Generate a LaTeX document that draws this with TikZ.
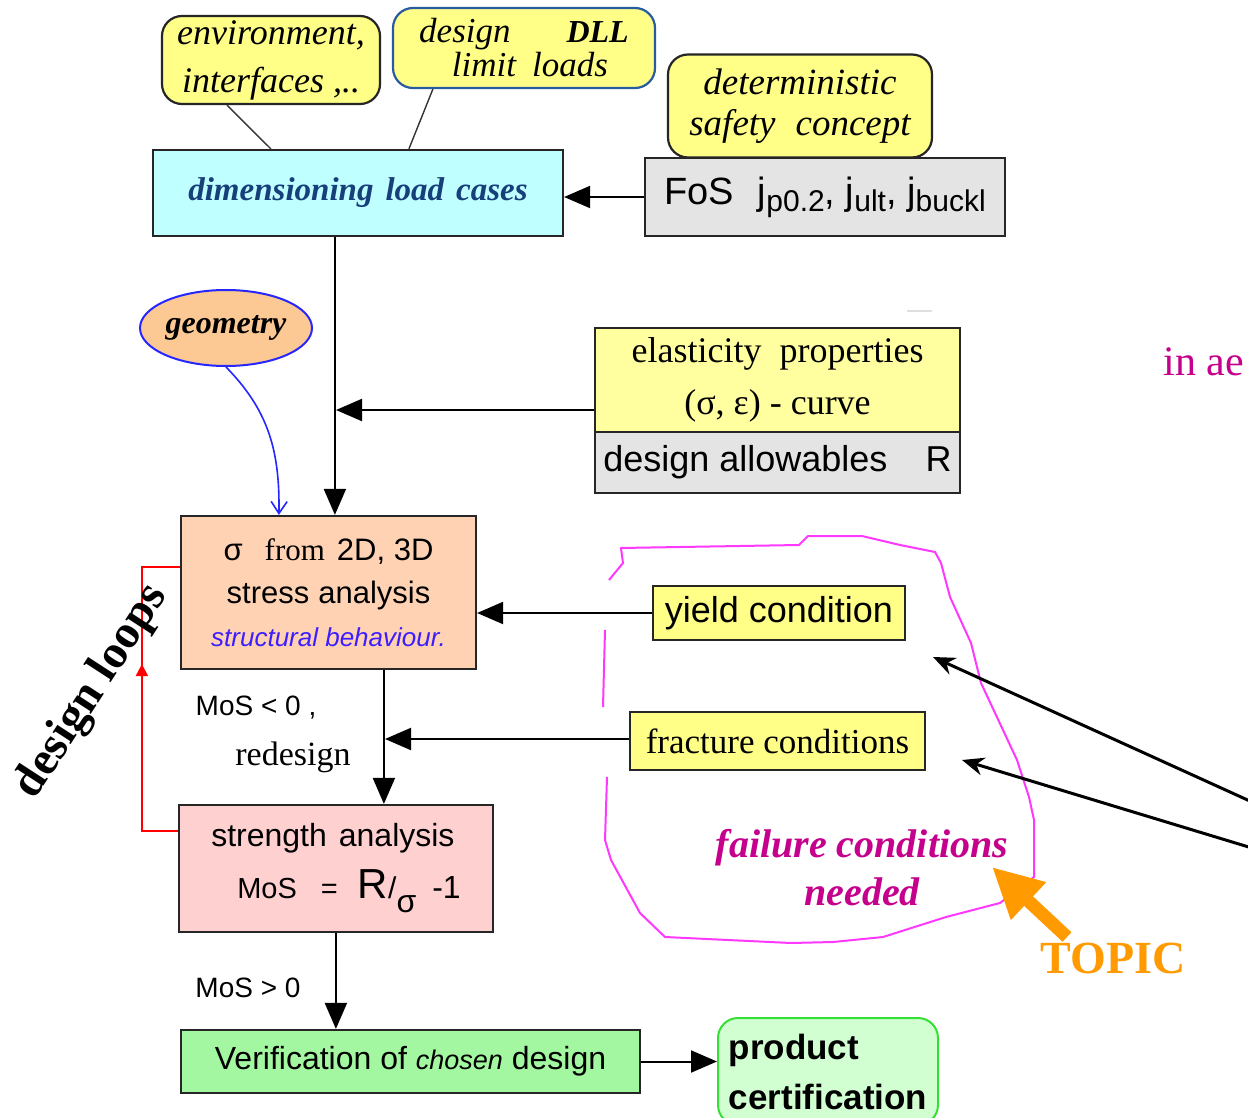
\documentclass[tikz,border=0pt]{standalone}
\usepackage{fontspec}
\setmainfont{Liberation Sans}
\newfontfamily\serifz{Liberation Serif}
\usetikzlibrary{arrows.meta,calc,decorations.markings,shapes.geometric}
\definecolor{ylwA}{HTML}{FFFF88}
\definecolor{ylwB}{HTML}{FFFFA0}
\definecolor{cyanA}{HTML}{BFFFFF}
\definecolor{grayA}{HTML}{E4E4E4}
\definecolor{peach}{HTML}{FFD2B4}
\definecolor{pinkA}{HTML}{FFD0D0}
\definecolor{greenA}{HTML}{A2F7A0}
\definecolor{greenB}{HTML}{D2FFD2}
\definecolor{greenE}{HTML}{33E033}
\definecolor{geoF}{HTML}{FCC894}
\definecolor{blueE}{HTML}{2626FF}
\definecolor{dllE}{HTML}{2A5AA0}
\definecolor{navy}{HTML}{17407A}
\definecolor{violetT}{HTML}{3C1EFF}
\definecolor{magL}{HTML}{FF38FF}
\definecolor{magT}{HTML}{C4008C}
\definecolor{orangeT}{HTML}{FF9A00}
\newcommand\fsz[2]{\fontsize{#1}{#2}\selectfont}
\begin{document}
\begin{tikzpicture}[x=1pt,y=-1pt,
 box/.style={draw=black!85, line width=2.2pt, inner sep=0pt, align=center},
 rbox/.style={box, rounded corners=20pt},
 arr/.style={line width=2pt, -{Triangle[length=26pt,width=22pt]}},
 link/.style={line width=1.4pt, draw=black!80},
 ptr/.style={line width=3pt, -{Stealth[length=22pt,width=18pt]}},
]
\clip (0,0) rectangle (1248,1118);
\fill[white] (0,0) rectangle (1248,1118);

% top row
\node[rbox, fill=ylwA, minimum width=218pt, minimum height=88pt, font=\serifz\itshape\fsz{36}{48}] (env) at (271,60) {environment,\\interfaces ,..};
\node[rbox, draw=dllE, fill=ylwA, minimum width=262pt, minimum height=80pt, font=\serifz\itshape\fsz{35}{34}] (dll) at (524,48) {design\hspace{56pt}{\bfseries\fsz{32}{34}DLL}\\\hspace*{12pt}limit\hspace{16pt}loads};
\node[rbox, fill=ylwA, minimum width=264pt, minimum height=103pt, font=\serifz\itshape\fsz{37}{41}] (det) at (800,106) {deterministic\\safety\hspace{20pt}concept};
\node[box, fill=cyanA, minimum width=410pt, minimum height=86pt, font=\serifz\bfseries\itshape\fsz{33}{33}, text=navy] (dim) at (358,193) {dimensioning\hspace{12pt}load\hspace{12pt}cases};
\node[box, fill=grayA, minimum width=360pt, minimum height=78pt, font=\fsz{38}{38}] (fos) at (825,197) {FoS\hspace{24pt}j\raisebox{-7pt}{\fsz{30}{30}p0.2}, j\raisebox{-7pt}{\fsz{30}{30}ult}, j\raisebox{-7pt}{\fsz{30}{30}buckl}};

\draw[link] ($(env.south west)+(66,0)$) -- ($(dim.north west)+(119,0)$);
\draw[link] ($(dll.south west)+(41,0)$) -- ($(dim.north west)+(257,0)$);
\draw[arr] (fos.west) -- (fos.west -| dim.east);

% middle
\node[ellipse, draw=blueE, line width=2pt, fill=geoF, minimum width=172pt, minimum height=76pt, inner sep=0pt, font=\serifz\bfseries\itshape\fsz{32}{32}] (geo) at (226,328) {geometry};
\node[box, fill=ylwB, minimum width=365pt, minimum height=104pt, font=\serifz\fsz{36}{52}] (elas) at (777.5,380) {elasticity\ \ properties\\(σ, ε) - curve};
\node[box, fill=grayA, minimum width=365pt, minimum height=61pt, font=\fsz{36}{36}] (allow) at (777.5,462.5) {design allowables\hspace{38pt}R};

\node[box, fill=peach, minimum width=295pt, minimum height=153pt, font=\fsz{31}{43}] (sig) at (328.5,592.5) {σ\hspace{22pt}{\serifz from}\hspace{12pt}2D, 3D\\stress\hspace{9pt}analysis\\{\color{violetT}\itshape\fsz{26}{43}structural behaviour.}};
\node[box, fill=ylwA, minimum width=252pt, minimum height=54pt, font=\fsz{36}{36}] (yield) at (779,613) {yield condition};
\node[box, fill=ylwA, minimum width=295pt, minimum height=58pt, font=\serifz\fsz{35}{35}] (frac) at (777.5,741) {fracture conditions};

\node[box, fill=pinkA, minimum width=314pt, minimum height=127pt, align=left, font=\fsz{32}{52}] (str) at (336,868.5) {strength\hspace{12pt}analysis\\\hspace*{26pt}{\fsz{29}{52}MoS\hspace{24pt}=\hspace{20pt}}{\fsz{42}{52}R}{\fsz{30}{52}/}\raisebox{-14pt}{\fsz{32}{32}σ}\hspace{16pt}{\fsz{32}{52}-1}};
\node[box, fill=greenA, minimum width=459pt, minimum height=63pt, font=\fsz{32}{32}] (ver) at (410.5,1061.5) {Verification of {\itshape\fsz{27}{32}chosen} design};
\node[rbox, draw=greenE, line width=2pt, fill=greenB, minimum width=220pt, minimum height=107pt, align=left, font=\bfseries\fsz{35}{50}] (prod) at (828,1071.5) {product\\certification};

% connectors
\draw[arr] ($(dim.south west)+(183,0)$) -- ($(sig.north west)+(155,0)$);
\coordinate (j1) at (336,410);
\draw[arr] (elas.south west |- j1) -- (j1);
\draw[blueE, line width=1.6pt, -{Straight Barb[length=12pt,width=16pt]}] (geo.south) .. controls (268,410) and (280,450) .. ($(sig.north west)+(99,0)$);
\draw[arr] (yield.west) -- (yield.west -| sig.east);
\draw[arr] ($(sig.south west)+(204,0)$) -- ($(str.north west)+(206,0)$);
\coordinate (j2) at (385,739);
\draw[arr] (frac.west |- j2) -- (j2);
\draw[red, line width=2pt, postaction={decorate}, decoration={markings, mark=at position 0.6 with {\arrow{Triangle[length=12pt,width=12pt]}}}] ($(str.north west)+(0,27)$) -- ++(-36,0) |- ($(sig.north west)+(0,52)$);
\draw[arr] ($(str.south west)+(158,0)$) -- ($(ver.north west)+(156,0)$);
\draw[arr] (ver.east) -- (ver.east -| prod.west);

% labels
\node[font=\fsz{28}{28}] (mlt) at (256,708) {MoS < 0 ,};
\node[font=\serifz\fsz{34}{34}] (rd) at (293,757) {redesign};
\node[font=\fsz{28}{28}] (mgt) at (248,988) {MoS > 0};
\node[font=\serifz\bfseries\fsz{47}{47}, rotate=57] (dl) at (92,692) {design loops};

% failure conditions outline
\draw[magL, line width=2pt, line join=round] (609,580) -- (623,563) -- (621,548) -- (799,545) -- (808,536) -- (862,536) -- (900,545) -- (935,552) -- (941,563) -- (950,597) -- (971,643) -- (981,683) -- (1017,760) -- (1029,797) -- (1034,820) -- (1034,877) -- (1000,903) -- (946,917) -- (883,937) -- (833,942) -- (791,943) -- (665,937) -- (640,913) -- (611,860) -- (605,840) -- (607,777);
\draw[magL, line width=2pt] (605,630) -- (603,707);
\node[font=\serifz\bfseries\itshape\fsz{40}{48}, text=magT, align=center] (fail) at (862,868) {failure conditions\\needed};
\node[font=\serifz\fsz{42}{42}, text=magT, anchor=base west] (inae) at (1160,375) {in ae};
\draw[gray!25, line width=2pt] (907,311) -- (932,311);

% topic
\node[font=\serifz\bfseries\fsz{46}{46}, text=orangeT] (topic) at (1113,958) {TOPIC};
\coordinate (ot) at (1067,937);
\coordinate (oh) at (992,867);
\draw[orangeT, line width=13pt, -{Triangle[length=50pt,width=48pt]}] (ot) -- (oh);

% pointers from the right
\coordinate (r1) at (1252,802); \coordinate (t1) at (933,657);
\coordinate (r2) at (1252,848); \coordinate (t2) at (962,760);
\draw[ptr] (r1) -- (t1);
\draw[ptr] (r2) -- (t2);
\end{tikzpicture}
\end{document}
